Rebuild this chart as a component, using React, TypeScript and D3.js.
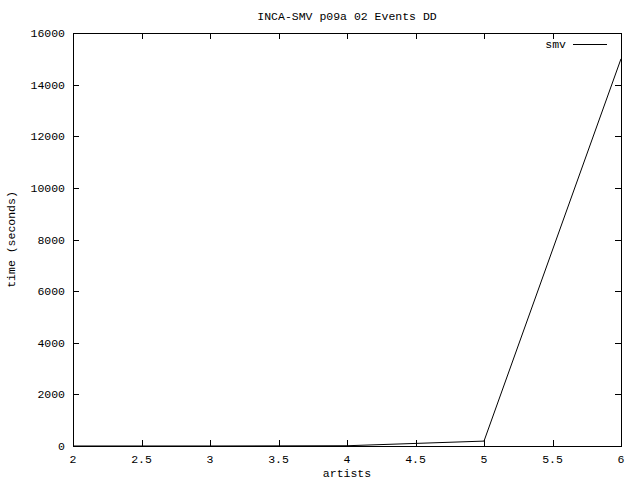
import { useEffect, useRef } from "react";
import * as d3 from "d3";

const artists = [2, 3, 4, 5, 6];
const times = [0.1, 1, 10, 190, 15000];
const xTicks = [2, 2.5, 3, 3.5, 4, 4.5, 5, 5.5, 6];
const yTicks = [0, 2000, 4000, 6000, 8000, 10000, 12000, 14000, 16000];
const seriesName = "smv";

export default function App() {
  const svgRef = useRef<SVGSVGElement>(null);

  useEffect(() => {
    const width = 640;
    const height = 480;
    const margin = { top: 33, right: 19, bottom: 34, left: 73 };
    const font = "'Liberation Mono', monospace";
    const fs = "11.5px";

    const root = d3.select(svgRef.current);
    root.selectAll("*").remove();
    root.attr("width", width).attr("height", height);

    root.append("rect").attr("width", width).attr("height", height).attr("fill", "#fff");

    const x = d3.scaleLinear().domain([2, 6]).range([margin.left, width - margin.right]);
    const y = d3.scaleLinear().domain([0, 16000]).range([height - margin.bottom, margin.top]);

    const g = root.append("g").attr("shape-rendering", "crispEdges");
    const tick = 6;

    // ticks (gnuplot style: inward, mirrored)
    xTicks.forEach((t) => {
      const px = Math.round(x(t)) + 0.5;
      g.append("line").attr("x1", px).attr("x2", px)
        .attr("y1", y(0)).attr("y2", y(0) - tick).attr("stroke", "#000");
      g.append("line").attr("x1", px).attr("x2", px)
        .attr("y1", y(16000)).attr("y2", y(16000) + tick).attr("stroke", "#000");
      root.append("text").attr("x", x(t)).attr("y", y(0) + 17)
        .attr("text-anchor", "middle").attr("font-family", font).attr("font-size", fs)
        .text(String(t));
    });
    yTicks.forEach((t) => {
      const py = Math.round(y(t)) + 0.5;
      g.append("line").attr("x1", x(2)).attr("x2", x(2) + tick)
        .attr("y1", py).attr("y2", py).attr("stroke", "#000");
      g.append("line").attr("x1", x(6)).attr("x2", x(6) - tick)
        .attr("y1", py).attr("y2", py).attr("stroke", "#000");
      root.append("text").attr("x", x(2) - 8).attr("y", y(t) + 4)
        .attr("text-anchor", "end").attr("font-family", font).attr("font-size", fs)
        .text(String(t));
    });

    g.append("rect")
      .attr("x", x(2) + 0.5).attr("y", y(16000) + 0.5)
      .attr("width", x(6) - x(2)).attr("height", y(0) - y(16000))
      .attr("fill", "none").attr("stroke", "#000");

    const line = d3.line<number>()
      .x((_, i) => x(artists[i]))
      .y((d) => y(d));

    root.append("path")
      .datum(times)
      .attr("d", line)
      .attr("fill", "none")
      .attr("stroke", "#000")
      .attr("stroke-width", 1);

    // legend
    root.append("text").attr("x", 566).attr("y", 48)
      .attr("text-anchor", "end").attr("font-family", font).attr("font-size", fs)
      .text(seriesName);
    g.append("line").attr("x1", 573).attr("x2", 607).attr("y1", 44.5).attr("y2", 44.5)
      .attr("stroke", "#000");

    root.append("text").attr("x", (x(2) + x(6)) / 2).attr("y", 20)
      .attr("text-anchor", "middle").attr("font-family", font).attr("font-size", fs)
      .text("INCA-SMV p09a 02 Events DD");
    root.append("text").attr("x", (x(2) + x(6)) / 2).attr("y", 477)
      .attr("text-anchor", "middle").attr("font-family", font).attr("font-size", fs)
      .text("artists");
    root.append("text")
      .attr("transform", `translate(15,${(y(0) + y(16000)) / 2}) rotate(-90)`)
      .attr("text-anchor", "middle").attr("font-family", font).attr("font-size", fs)
      .text("time (seconds)");
  }, []);

  return (
    <svg ref={svgRef} style={{ position: "absolute", left: 0, top: 0, display: "block" }}></svg>
  );
}
